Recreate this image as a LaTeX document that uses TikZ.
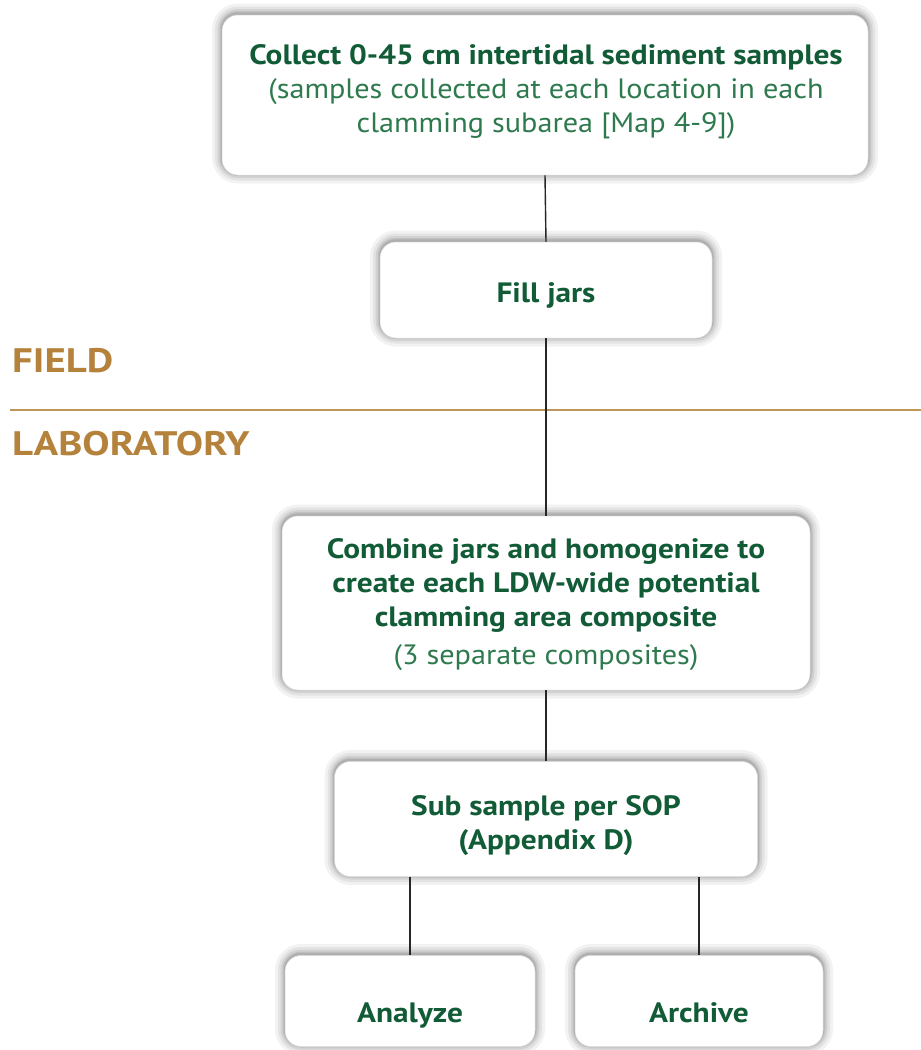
\documentclass[tikz,border=0pt]{standalone}
\usepackage{fontspec}
\setmainfont{PT Sans}[UprightFeatures={FakeStretch=1.08},BoldFeatures={FakeStretch=1.12}]
\newfontfamily\phasefont{PT Sans}[BoldFeatures={FakeStretch=1.2}]
\definecolor{stepgreen}{HTML}{115B36}
\definecolor{notegreen}{HTML}{2E7A4E}
\definecolor{phasetan}{HTML}{B5823C}
\definecolor{ruletan}{HTML}{BE955A}
\tikzset{
  % one soft ring of the glow drawn behind each box
  halo/.style 2 args={preaction={draw=black, draw opacity=#1, fill=none,
      line width=#2, transform canvas={yshift=1.5pt}}},
  stepbox/.style={draw=black!14, line width=0.5pt, fill=white, rounded corners=16pt,
    halo={0.05}{20pt}, halo={0.06}{14pt}, halo={0.07}{9pt},
    halo={0.08}{5pt}, halo={0.09}{2.5pt}},
  steptext/.style={align=center, text=stepgreen, font=\fontsize{28}{34}\selectfont\bfseries},
  phase/.style={anchor=base west, text=phasetan, inner sep=0pt, font=\phasefont\fontsize{34}{40}\selectfont\bfseries},
  link/.style={draw=black!85, line width=1.4pt}
}
\begin{document}
\begin{tikzpicture}[x=1pt,y=-1pt]
\useasboundingbox[fill=white] (0,0) rectangle (921,1050);

% field / laboratory divider
\draw[ruletan, line width=2.4pt] (10,410) -- (921,410);
\node[phase] (field) at (12,372) {FIELD};
\node[phase] (lab) at (12,455) {LABORATORY};

% process boxes
\node[stepbox, minimum width=646pt, minimum height=160pt] (b1) at (545,95) {};
\node[stepbox, minimum width=332pt, minimum height=96pt] (b2) at (546,290) {};
\node[stepbox, minimum width=528pt, minimum height=174pt] (b3) at (546,603) {};
\node[stepbox, minimum width=423pt, minimum height=115pt] (b4) at (546,819) {};
\node[stepbox, minimum width=250pt, minimum height=91pt] (b5) at (410,1001) {};
\node[stepbox, minimum width=248pt, minimum height=91pt] (b6) at (699,1001) {};

% box captions
\node[steptext] (t1) at (546,92) {Collect 0-45 cm intertidal sediment samples\\
  {\mdseries\color{notegreen}(samples collected at each location in each}\\
  {\mdseries\color{notegreen}clamming subarea [Map 4-9])}};
\node[steptext, anchor=base] (t2) at (546,302) {Fill jars};
\node[steptext] (t3) at (546,605) {Combine jars and homogenize to\\
  create each LDW-wide potential\\
  clamming area composite\\[4pt]
  {\mdseries\color{notegreen}(3 separate composites)}};
\node[steptext] (t4) at (546,826) {Sub sample per SOP\\(Appendix D)};
\node[steptext, anchor=base] (t5) at (410,1022) {Analyze};
\node[steptext, anchor=base] (t6) at (699,1022) {Archive};

% connectors
\draw[link] (b1.south) -- (b2.north);
\draw[link] (b2.south) -- (b3.north);
\draw[link] (b3.south) -- (b4.north);
\draw[link] (b5.north |- b4.south) -- (b5.north);
\draw[link] (b6.north |- b4.south) -- (b6.north);
\end{tikzpicture}
\end{document}
